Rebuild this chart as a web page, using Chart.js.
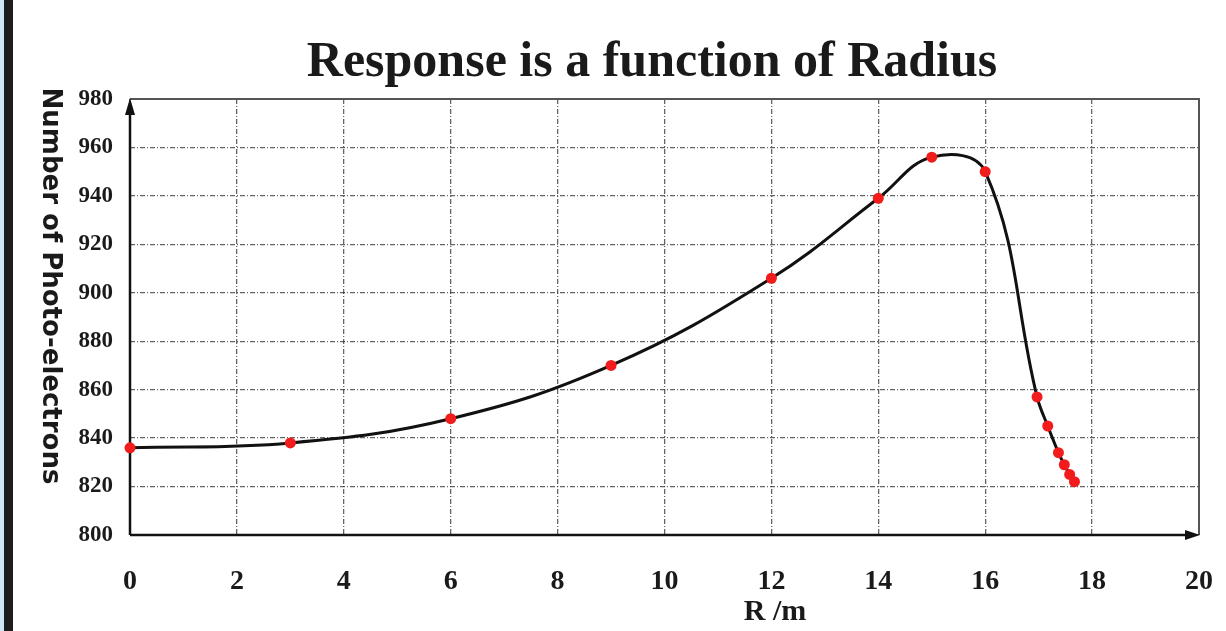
<!DOCTYPE html>
<html>
<head>
<meta charset="utf-8">
<title>Response is a function of Radius</title>
<script src="https://cdn.jsdelivr.net/npm/chart.js@4.4.1/dist/chart.umd.min.js"></script>
<style>
    html, body { margin: 0; padding: 0; }
    body {
        width: 1226px;
        height: 631px;
        overflow: hidden;
        background: linear-gradient(to right, #cfe7f7 0 4px, #1d1d1f 4px 13px, #ffffff 13px);
    }
</style>
</head>
<body>
<canvas id="graficoResposta" width="1226" height="631"></canvas>
<script>
// Dados
const raios = [0, 3, 6, 9, 12, 14, 15, 16, 16.97, 17.17, 17.37, 17.48, 17.58, 17.67];
const fotoeletrons = [836, 838, 848, 870, 906, 939, 956, 950, 857, 845, 834, 829, 825, 822];

const ticksX = [0, 2, 4, 6, 8, 10, 12, 14, 16, 18, 20];
const ticksY = [800, 820, 840, 860, 880, 900, 920, 940, 960, 980];

const titulo = 'Response is a function of Radius';
const tituloX = 'R /m';
const tituloY = 'Number of Photo-electrons';

const serif = "'Liberation Serif', 'Times New Roman', serif";

// Moldura e eixos com setas, desenhados antes dos pontos
const molduraPlugin = {
    id: 'moldura',
    beforeDatasetsDraw(chart) {
        const { ctx, chartArea: a } = chart;
        ctx.save();
        ctx.strokeStyle = '#555';
        ctx.lineWidth = 2;
        ctx.beginPath();
        ctx.moveTo(a.left, a.top);
        ctx.lineTo(a.right, a.top);
        ctx.lineTo(a.right, a.bottom);
        ctx.stroke();

        ctx.strokeStyle = '#111';
        ctx.lineWidth = 2.5;
        ctx.beginPath();
        ctx.moveTo(a.left, a.bottom);
        ctx.lineTo(a.left, a.top + 6);
        ctx.moveTo(a.left, a.bottom);
        ctx.lineTo(a.right - 6, a.bottom);
        ctx.stroke();

        ctx.fillStyle = '#111';
        ctx.beginPath();
        ctx.moveTo(a.left, a.top - 1);
        ctx.lineTo(a.left - 5, a.top + 16);
        ctx.lineTo(a.left + 5, a.top + 16);
        ctx.closePath();
        ctx.fill();
        ctx.beginPath();
        ctx.moveTo(a.right + 1, a.bottom);
        ctx.lineTo(a.right - 14, a.bottom - 5);
        ctx.lineTo(a.right - 14, a.bottom + 5);
        ctx.closePath();
        ctx.fill();
        ctx.restore();
    }
};

// Títulos do gráfico e dos eixos
const titulosPlugin = {
    id: 'titulos',
    afterDraw(chart) {
        const { ctx } = chart;
        ctx.save();
        ctx.fillStyle = '#1a1a1a';
        ctx.textAlign = 'center';
        ctx.textBaseline = 'alphabetic';

        ctx.font = `bold 50px ${serif}`;
        ctx.fillText(titulo, 652, 76);

        ctx.font = `bold 30px ${serif}`;
        ctx.fillText(tituloX, 775, 620);

        ctx.font = "bold 26px 'DejaVu Sans', sans-serif";
        ctx.translate(43, 286);
        ctx.rotate(Math.PI / 2);
        ctx.fillText(tituloY, 0, 0);
        ctx.restore();
    }
};

document.addEventListener('DOMContentLoaded', () => {
    const ctx = document.getElementById('graficoResposta').getContext('2d');
    const pontos = raios.map((r, i) => ({ x: r, y: fotoeletrons[i] }));

    window.graficoResposta = new Chart(ctx, {
        type: 'line',
        data: {
            datasets: [{
                label: 'Response',
                data: pontos,
                borderColor: '#111',
                borderWidth: 3,
                tension: 0.4,
                pointRadius: 5.5,
                pointBackgroundColor: '#f21c1c',
                pointBorderWidth: 0,
                fill: false,
                clip: false
            }]
        },
        options: {
            responsive: false,
            animation: false,
            layout: {
                padding: { top: 99, right: 27, bottom: 0, left: 0 }
            },
            plugins: {
                legend: { display: false },
                title: { display: false },
                tooltip: { enabled: false }
            },
            scales: {
                x: {
                    type: 'linear',
                    min: 0,
                    max: 20,
                    afterBuildTicks: scale => {
                        scale.ticks = ticksX.map(v => ({ value: v }));
                    },
                    afterFit: scale => {
                        scale.height = 96;
                        scale.paddingLeft = 0;
                        scale.paddingRight = 0;
                    },
                    grid: {
                        color: 'rgba(50, 50, 50, 0.75)',
                        lineWidth: 1.3,
                        drawTicks: false
                    },
                    border: { display: false, dash: [5, 2, 1, 2] },
                    ticks: {
                        padding: 30,
                        color: '#1a1a1a',
                        font: { family: serif, size: 28, weight: 'bold' }
                    }
                },
                y: {
                    min: 800,
                    max: 980,
                    afterBuildTicks: scale => {
                        scale.ticks = ticksY.map(v => ({ value: v }));
                    },
                    afterFit: scale => {
                        scale.width = 130;
                    },
                    grid: {
                        color: 'rgba(50, 50, 50, 0.75)',
                        lineWidth: 1.3,
                        drawTicks: false
                    },
                    border: { display: false, dash: [5, 2, 1, 2] },
                    ticks: {
                        padding: 17,
                        color: '#1a1a1a',
                        font: { family: serif, size: 23, weight: 'bold' }
                    }
                }
            }
        },
        plugins: [molduraPlugin, titulosPlugin]
    });
});
</script>
</body>
</html>
